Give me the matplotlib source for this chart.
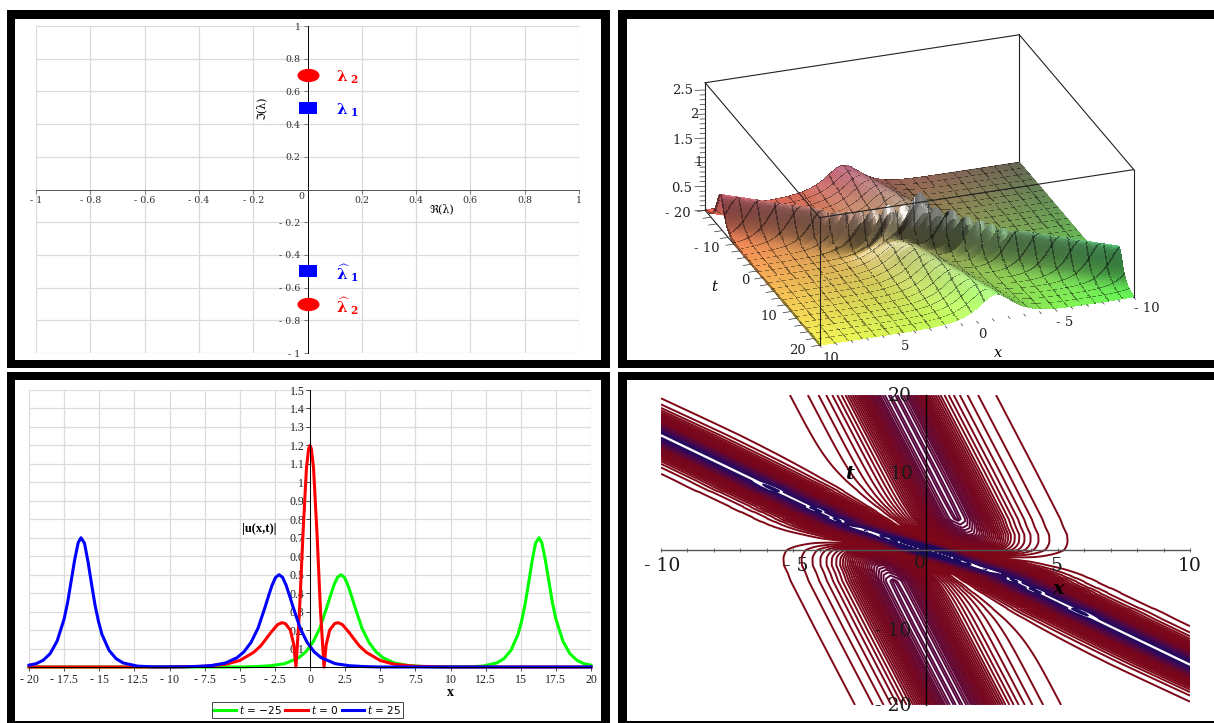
import numpy as np
import matplotlib
matplotlib.use('Agg')
import matplotlib.pyplot as plt
from matplotlib.colors import LinearSegmentedColormap, Normalize
from matplotlib.markers import MarkerStyle
from matplotlib.patches import Rectangle
from matplotlib.ticker import MultipleLocator
from matplotlib.transforms import Affine2D

plt.rcParams['mathtext.fontset'] = 'dejavuserif'

# ---------- panel (a): spectral points ----------
square_re = [0, 0]
square_im = [0.5, -0.5]
circle_re = [0, 0]
circle_im = [0.7, -0.7]
a_ticks = [-1, -0.8, -0.6, -0.4, -0.2, 0.2, 0.4, 0.6, 0.8, 1]
a_labels = ['- 1', '- 0.8', '- 0.6', '- 0.4', '- 0.2', '0.2', '0.4', '0.6', '0.8', '1']

# ---------- panel (c): |u(x,t)| sections ----------
blue_x = [-20, -19.5, -19, -18.5, -18, -17.5, -17.25, -17, -16.75, -16.5, -16.3, -16.05, -15.8, -15.55,
          -15.3, -15.05, -14.8, -14.3, -13.8, -13.3, -12.3, -11.3, -9, -8, -7, -6, -5.2, -4.7, -4.2, -3.7,
          -3.2, -2.95, -2.7, -2.45, -2.2, -1.95, -1.7, -1.45, -1.2, -0.7, -0.2, 0.3, 0.8, 1.8, 2.8, 3.8, 5, 20]
blue_y = [.010, .018, .036, .072, .140, .26, .35, .465, .58, .673, .70, .67, .57, .45,
          .335, .245, .175, .09, .045, .022, .005, .001, .001, .003, .008, .022, .05, .082, .133, .21,
          .324, .385, .443, .485, .50, .485, .443, .385, .324, .21, .133, .082, .05, .018, .007, .0025, 0, 0]
green_x = [-20, -5, -3.8, -2.8, -1.8, -0.8, -0.3, 0.2, 0.7, 1.2, 1.45, 1.7, 1.95, 2.2, 2.45, 2.7, 2.95, 3.2,
           3.7, 4.2, 4.7, 5.2, 6, 7, 8, 9, 11.3, 12.3, 13.3, 13.8, 14.3, 14.8, 15.05, 15.3, 15.55, 15.8,
           16.05, 16.3, 16.5, 16.75, 17, 17.25, 17.5, 18, 18.5, 19, 19.5, 20]
green_y = [0, 0, .0025, .007, .018, .05, .082, .133, .21, .324, .385, .443, .485, .50, .485, .443, .385, .324,
           .21, .133, .082, .05, .022, .008, .003, .001, .001, .005, .022, .045, .09, .175, .245, .335, .45, .57,
           .67, .70, .673, .58, .465, .35, .26, .140, .072, .036, .018, .010]
red_x = [-20, -10, -7.5, -6, -5, -4, -3.5, -3, -2.75, -2.3, -2, -1.75, -1.4, -1.15, -1, -0.75, -0.5, -0.25, -0.1, 0,
         0.1, 0.25, 0.5, 0.75, 1, 1.15, 1.4, 1.75, 2, 2.3, 2.75, 3, 3.5, 4, 5, 6, 7.5, 10, 20]
red_y = [0, 0, .004, .015, .035, .08, .115, .165, .19, .23, .24, .235, .20, .12, 0, .30, .72, 1.08, 1.18, 1.20,
         1.18, 1.08, .72, .30, 0, .12, .20, .235, .24, .23, .19, .165, .115, .08, .035, .015, .004, 0, 0]
c_xticks = [-20, -17.5, -15, -12.5, -10, -7.5, -5, -2.5, 0, 2.5, 5, 7.5, 10, 12.5, 15, 17.5, 20]
c_xlabels = ['- 20', '- 17.5', '- 15', '- 12.5', '- 10', '- 7.5', '- 5', '- 2.5', '0', '2.5', '5', '7.5',
             '10', '12.5', '15', '17.5', '20']
c_yticks = [.1, .2, .3, .4, .5, .6, .7, .8, .9, 1, 1.1, 1.2, 1.3, 1.4, 1.5]
c_ylabels = ['0.1', '0.2', '0.3', '0.4', '0.5', '0.6', '0.7', '0.8', '0.9', '1', '1.1', '1.2', '1.3', '1.4', '1.5']

# ---------- panels (b) and (d): the |u(x,t)| field is rebuilt from values:
# ridge tracks (crest position and relative height at read t) and cross-sections (height at read offset),
# resampled between those readings so the contours and the mesh stay smooth.
fast_t = [-25, -20, -14.8, -8.9, -3.2, -2, -1, -0.5, 0, 0.5, 1, 2, 3.2, 8.9, 14.8, 20, 25]
fast_x = [16.3, 13.3, 10, 6.4, 2.9, 1.8, 0.9, 0.45, 0, -0.45, -0.9, -1.8, -2.9, -6.4, -10, -13.3, -16.3]
# crest height along the fast ridge in panel (d); the small rises close the white crest into dashes
crest_t = [-25, -8.9, -8.2, -7.6, -7.5, -5.6, -5.5, -4.95, -4.9, -4.2, -4.1, -3.7, -3.6, -3.1, -3.0, -2, -1, -0.5, 0,
           0.5, 1, 2, 3.0, 3.1, 3.6, 3.7, 4.1, 4.2, 4.9, 4.95, 5.5, 5.6, 7.5, 7.6, 8.2, 8.9, 25]
crest_rel = [1, 1, 1.05, 1.05, 1, 1, 1.05, 1.05, 1, 1, 1.05, 1.05, 1, 1, 1.05, 1.1, 1.3, 1.55, 1.71,
             1.55, 1.3, 1.1, 1.05, 1, 1, 1.05, 1.05, 1, 1, 1.05, 1.05, 1, 1, 1.05, 1.05, 1, 1]
smooth_t = [-25, -3.2, -2, -1, -0.5, 0, 0.5, 1, 2, 3.2, 25]
smooth_rel = [1, 1, 1.1, 1.3, 1.55, 1.71, 1.55, 1.3, 1.1, 1, 1]
fast_off = [0, .25, .5, .75, 1, 1.25, 1.5, 2, 2.5, 3, 4, 5, 7, 12]
fast_h = [.7, .66, .558, .436, .325, .237, .169, .085, .042, .021, .005, .0013, .00008, .0000001]

slow_off = [0, .25, .5, .75, 1, 1.5, 2, 2.5, 3, 4, 5, 7, 12]
slow_h = [.5, .485, .443, .385, .324, .21, .133, .082, .05, .018, .007, .001, .00001]
upper_t = [-4, -2.5, -1.5, -0.7, 0, 1, 2, 3, 4, 10, 20, 25]
upper_x = [2.6, 2.4, 2.25, 2.1, 2.0, 1.8, 1.6, 1.37, 1.2, 0.3, -1.23, -2.0]
upper_rel = [0.0, .02, .12, .32, .54, .72, .86, .94, 1, 1, 1, 1]
lower_t = [-25, -20, -10, -4, -3, -2, -1, 0, 0.7, 1.5, 2.5, 4]
lower_x = [2.0, 1.23, -0.3, -1.2, -1.37, -1.6, -1.8, -2.0, -2.1, -2.25, -2.4, -2.6]
lower_rel = [1, 1, 1, 1, .94, .86, .72, .54, .32, .12, .02, 0.0]

# crest heights of the spiky stretch on the surface, relative to the ridge, at read t
spike_t = [-25, -7, -6.3, -5.85, -5.4, -4.95, -4.5, -4.05, -3.6, -3.15, -2.7, -2.25, -1.8, -1.35, -0.9, -0.45, 0,
           0.45, 0.9, 1.35, 1.8, 2.25, 2.7, 3.15, 3.6, 4.05, 4.5, 4.95, 5.4, 5.85, 6.3, 7, 25]
spike_rel = [1, 1, .95, .62, 1.05, .62, 1.1, .62, 1.15, .62, 1.2, .62, 1.3, .65, 1.25, .8, 1.6,
             .8, 1.25, .65, 1.3, .62, 1.2, .62, 1.15, .62, 1.1, .62, 1.05, .62, .95, 1, 1]
# contour heights of panel (d): wider steps in the tails, closer ones where the picture turns solid
contour_levels = [.02, .04, .06, .08, .10, .12, .14, .16, .175, .19, .205, .22, .235, .25, .265, .28, .295,
                  .31, .325, .34, .355, .37, .385, .40, .415, .43, .445, .46, .475, .49, .495, .50, .52, .54,
                  .56, .58, .60, .62, .64, .655, .67, .72, .76, .80, .84, .88, .92, .96, 1.0, 1.04, 1.08,
                  1.12, 1.16, 1.2]

W, H = 1214, 723
fig = plt.figure(figsize=(W / 100, H / 100), dpi=100, facecolor='white')


def box(x0, y0, x1, y1):
    return [x0 / W, 1 - y1 / H, (x1 - x0) / W, (y1 - y0) / H]


def label(xp, yp, s, **kw):
    kw.setdefault('ha', 'center')
    kw.setdefault('va', 'center')
    kw.setdefault('zorder', 5)
    kw.setdefault('family', 'DejaVu Serif')
    return fig.text(xp / W, 1 - yp / H, s, **kw)


def ridge(X, T, tt, tx, rel_t, rel, off, h):
    centre = np.interp(T, tt, tx)
    amp = np.interp(T, rel_t, rel)
    return amp * np.exp(np.interp(np.abs(X - centre), off, np.log(h)))


def parts(X, T, rel_t, rel):
    fast = ridge(X, T, fast_t, fast_x, rel_t, rel, fast_off, fast_h)
    up = ridge(X, T, upper_t, upper_x, upper_t, upper_rel, slow_off, slow_h)
    lo = ridge(X, T, lower_t, lower_x, lower_t, lower_rel, slow_off, slow_h)
    return fast, up + lo


# ---------- frames ----------
frames = [(7, 10, 610, 368, 15, 19, 601, 360),
          (618, 10, 1240, 368, 627, 19, 1240, 360),
          (7, 372, 610, 740, 15, 380, 601, 721),
          (618, 372, 1240, 740, 627, 380, 1240, 721)]
for x0, y0, x1, y1, ix0, iy0, ix1, iy1 in frames:
    for r in [(x0, y0, x1, iy0), (x0, iy1, x1, y1), (x0, y0, ix0, y1), (ix1, y0, x1, y1)]:
        fig.add_artist(Rectangle((r[0] / W, 1 - r[3] / H), (r[2] - r[0]) / W, (r[3] - r[1]) / H,
                                 transform=fig.transFigure, fc='black', ec='none', zorder=10))

# ---------- panel (a) ----------
ax = fig.add_axes(box(36, 26, 579, 353))
ax.spines['left'].set_position('zero')
ax.spines['bottom'].set_position('zero')
for s in ['top', 'right']:
    ax.spines[s].set_visible(False)
ax.spines['left'].set_linewidth(0.7)
ax.spines['bottom'].set_linewidth(0.7)
ax.spines['bottom'].set_color('#555555')
ax.set_xlim(-1, 1)
ax.set_ylim(-1, 1)
ax.set_xticks(a_ticks)
ax.set_xticklabels(a_labels, family='DejaVu Serif', fontsize=6.8, color='#333333')
ax.set_yticks(a_ticks)
ax.set_yticklabels(a_labels, family='DejaVu Serif', fontsize=6.8, color='#333333')
ax.grid(True, color='#dadada', lw=0.9)
ax.set_axisbelow(True)
ax.tick_params(length=3, width=0.5, pad=2, color='#555555')
ax.plot(circle_re, circle_im, ls='none', color='#ff0000', ms=9.6,
        marker=MarkerStyle('o', transform=Affine2D().scale(1.65, 1)), mew=0, zorder=4)
ax.plot(square_re, square_im, ls='none', color='#0000ff', ms=8.4,
        marker=MarkerStyle('s', transform=Affine2D().scale(1.55, 1)), mew=0, zorder=4)
label(301, 197, '0', fontsize=6.8, color='#333333')
label(442, 209, 'ℜ(λ)', fontsize=8, family=['DejaVu Serif', 'DejaVu Sans'])
label(261, 108, 'ℑ(λ)', fontsize=8, rotation=90, family=['DejaVu Serif', 'DejaVu Sans'])
for xp, yp, s, c in [(347, 77, r'$\mathbf{\lambda}_{\ \mathbf{2}}$', '#ff0000'),
                     (347, 110, r'$\mathbf{\lambda}_{\ \mathbf{1}}$', '#0000ff'),
                     (347, 273, r'$\widehat{\mathbf{\lambda}}_{\ \mathbf{1}}$', '#0000ff'),
                     (347, 306, r'$\widehat{\mathbf{\lambda}}_{\ \mathbf{2}}$', '#ff0000')]:
    label(xp, yp, s, fontsize=11, color=c)

# ---------- panel (b) ----------
nx, nt = 253, 265
mesh_step = 11
xs = np.linspace(10, -10, nx)
ts = np.linspace(-20, 20, nt)
XS, TS = np.meshgrid(xs, ts)
fast, slow = parts(XS, TS, spike_t, spike_rel)
ZS = fast + slow
fast0, slow0 = parts(XS, TS, smooth_t, smooth_rel)
zt, zx = np.gradient(fast0 + slow0, ts, xs)
sz = 54.0
zx = zx * sz / 16.7
zt = zt * sz / 8.45
norm = np.sqrt(zx ** 2 + zt ** 2 + 1)
light = np.array([.5, -.55, .67])
lam = np.clip((-zx * light[0] - zt * light[1] + light[2]) / norm, 0, 1)
shade = .40 + .88 * lam
base = np.dstack([.40 + .58 * (XS + 10) / 20,
                  .40 + .58 * (TS + 20) / 40,
                  np.clip(.34 + .3 * ZS, 0, 1)])
rgb = np.clip(base * shade[..., None], 0, 1)
gloss = np.clip((lam - .72) * 2.5, 0, .6) + np.clip((ZS - .72) * 1.2, 0, .6)
rgb = rgb + (1 - rgb) * np.clip(gloss, 0, .75)[..., None]
rgb[::mesh_step, :] *= .6
rgb[:, ::mesh_step] *= .6

ax3 = fig.add_axes(box(672.5, -44, 672.5 + 481, -44 + 481), projection='3d')
ax3.set_proj_type('ortho')
ax3.view_init(elev=25.1, azim=70.2)
ax3.set_box_aspect((334, 338, 141))
ax3.set_xlim(-10, 10)
ax3.set_ylim(-20, 20)
ax3.set_zlim(0, 2.65)
ax3.set_axis_off()
ax3.patch.set_alpha(0)
ax3.computed_zorder = False
ZT = 2.65
for p, q, zo in [((-10, -20, 0), (10, -20, 0), 1), ((-10, -20, 0), (-10, -20, ZT), 1),
                 ((-10, -20, ZT), (10, -20, ZT), 3), ((10, -20, ZT), (10, 20, ZT), 3),
                 ((10, 20, ZT), (-10, 20, ZT), 3), ((-10, 20, ZT), (-10, -20, ZT), 3),
                 ((10, -20, 0), (10, -20, ZT), 3), ((10, 20, 0), (10, 20, ZT), 3),
                 ((-10, 20, 0), (-10, 20, ZT), 3), ((10, -20, 0), (10, 20, 0), 1),
                 ((-10, -20, 0), (-10, 20, 0), 1)]:
    ax3.plot([p[0], q[0]], [p[1], q[1]], [p[2], q[2]], color='#222222', lw=0.8, zorder=zo)
ax3.plot_surface(XS, TS, ZS, facecolors=rgb, rstride=1, cstride=1, shade=False,
                 linewidth=0, antialiased=False, zorder=2)
for zv in np.arange(0, 2.6, 0.1):
    ln = 1.0 if abs(zv * 2 - round(zv * 2)) < 1e-6 else 0.5
    ax3.plot([10, 10 + .6 * ln], [-20, -20 - .3 * ln], [zv, zv], color='#333333', lw=0.5, zorder=3)
for xv in np.arange(-10, 10.1, 1):
    ax3.plot([xv, xv], [20, 20.6], [0, 0], color='#333333', lw=0.5, zorder=3)
for tv in np.arange(-20, 20.1, 2):
    ax3.plot([10, 10.5], [tv, tv], [0, 0], color='#333333', lw=0.5, zorder=3)
for xp, yp, s in [(683, 91, '2.5'), (694, 115, '2'), (683, 140, '1.5'), (699, 163, '1'), (682, 188, '0.5'),
                  (678, 213, '- 20'), (707, 248, '- 10'), (745, 281, '0'), (769, 316, '10'), (798, 350, '20'),
                  (831, 358, '10'), (905, 346, '5'), (982, 334, '0'), (1065, 322, '- 5'), (1147, 309, '- 10')]:
    label(xp, yp, s, fontsize=9.5, color='#222222')
label(714, 287, 't', fontsize=10.5, style='italic')
label(998, 353, 'x', fontsize=10.5, style='italic')

# ---------- panel (c) ----------
ac = fig.add_axes(box(29, 390, 591, 667))
ac.spines['left'].set_position('zero')
for s in ['top', 'right']:
    ac.spines[s].set_visible(False)
ac.spines['left'].set_linewidth(0.7)
ac.spines['bottom'].set_linewidth(0.7)
ac.set_xlim(-20, 20)
ac.set_ylim(0, 1.5)
ac.set_xticks(c_xticks)
ac.set_xticklabels(c_xlabels, family='Liberation Serif', fontsize=8.6, color='#222222')
ac.set_yticks(c_yticks)
ac.set_yticklabels(c_ylabels, family='Liberation Serif', fontsize=8.6, color='#222222')
ac.grid(True, color='#dcdcdc', lw=0.9)
ac.set_axisbelow(True)
ac.tick_params(length=3, width=0.5, pad=2)
ac.tick_params(axis='y', pad=1)
l1, = ac.plot(green_x, green_y, color='#00ff00', lw=2.2, label=r'$t$ = −25', clip_on=False)
l2, = ac.plot(red_x, red_y, color='#ff0000', lw=2.2, label=r'$t$ = 0', clip_on=False)
l3, = ac.plot(blue_x, blue_y, color='#0000ff', lw=2.2, label=r'$t$ = 25', clip_on=False)
leg = fig.legend(handles=[l1, l2, l3], ncol=3, loc='center', bbox_to_anchor=(307.5 / W, 1 - 710 / H),
                 prop={'family': 'DejaVu Sans', 'size': 7.6}, fancybox=False, edgecolor='#444444',
                 framealpha=1, handlelength=2.1, handletextpad=0.3, columnspacing=0.3,
                 borderpad=0.2, borderaxespad=0)
leg.get_frame().set_linewidth(0.7)
label(259, 529, '|u(x,t)|', fontsize=9, fontweight='bold', family='Liberation Serif')
label(450, 693, 'x', fontsize=10, fontweight='bold', family='Liberation Serif')

# ---------- panel (d) ----------
ad = fig.add_axes(box(661, 395, 1190, 705))
ad.spines['left'].set_position('zero')
ad.spines['bottom'].set_position('zero')
for s in ['top', 'right']:
    ad.spines[s].set_visible(False)
ad.spines['left'].set_linewidth(1.0)
ad.spines['bottom'].set_linewidth(1.0)
ad.spines['bottom'].set_color('#555555')
xd = np.linspace(-10, 10, 900)
td = np.linspace(-20, 20, 1200)
XD, TD = np.meshgrid(xd, td)
fast, slow = parts(XD, TD, crest_t, crest_rel)
ZD = np.abs(fast - slow)
cmap = LinearSegmentedColormap.from_list('mn', [(0, '#7f0818'), (.42, '#75061f'), (.72, '#520845'),
                                                (.86, '#35095a'), (1, '#1c0a5e')])
ad.contour(XD, TD, ZD, levels=contour_levels, cmap=cmap, norm=Normalize(0.02, 0.72), linewidths=1.4)
ad.set_xlim(-10, 10)
ad.set_ylim(-20, 20)
ad.patch.set_alpha(0)
ad.xaxis.set_major_locator(MultipleLocator(1))
ad.set_yticks([])
ad.tick_params(axis='x', length=3, width=0.6, direction='inout', color='#555555', labelbottom=False)
for xp, yp, s in [(662, 566, '- 10'), (796, 566, '- 5'), (920, 563, '0'), (1056, 566, '5'), (1190, 566, '10'),
                  (900, 396, '20'), (902, 474, '10'), (893, 631, '- 10'), (893, 706, '- 20')]:
    label(xp, yp, s, fontsize=13.5, color='#1a1a1a')
label(850, 474, 't', fontsize=14, style='italic', fontweight='bold')
label(1058, 589, 'x', fontsize=14, style='italic', fontweight='bold')

fig.savefig('out.png', dpi=100)
